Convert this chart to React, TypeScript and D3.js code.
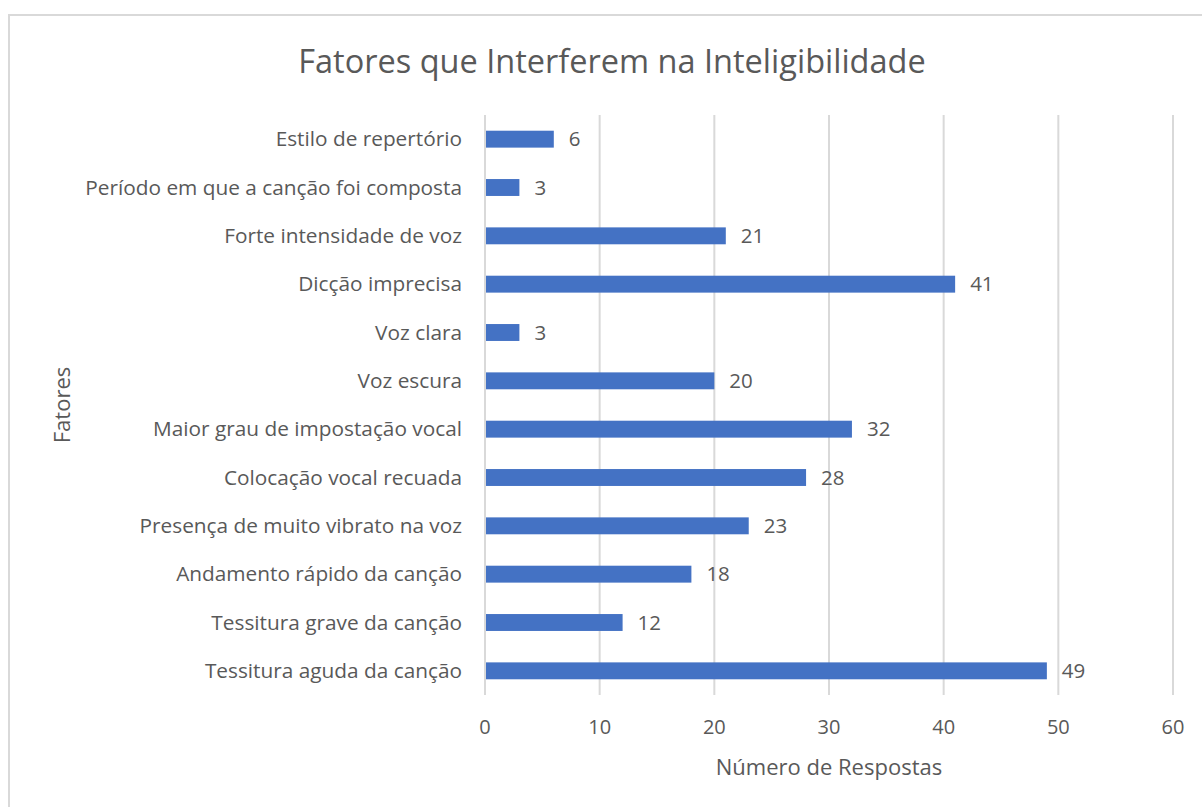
import React, { useRef, useEffect } from "react";
import * as d3 from "d3";

// dados do gráfico (de cima para baixo)
const fatores = [
  "Estilo de repertório",
  "Período em que a canção foi composta",
  "Forte intensidade de voz",
  "Dicção imprecisa",
  "Voz clara",
  "Voz escura",
  "Maior grau de impostação vocal",
  "Colocação vocal recuada",
  "Presença de muito vibrato na voz",
  "Andamento rápido da canção",
  "Tessitura grave da canção",
  "Tessitura aguda da canção",
];
const respostas = [6, 3, 21, 41, 3, 20, 32, 28, 23, 18, 12, 49];
const xTicks = [0, 10, 20, 30, 40, 50, 60];

const W = 1202;
const H = 807;
const FONT = "'Open Sans', 'Noto Sans', sans-serif";
const TXT = "#595959";

export default function App() {
  const svgRef = useRef<SVGSVGElement>(null);

  useEffect(() => {
    const svg = d3.select(svgRef.current);
    svg.selectAll("*").remove();

    const left = 485, right = 1173, top = 115, bottom = 695;

    const x = d3.scaleLinear().domain([0, 60]).range([left, right]);
    const y = d3
      .scaleBand()
      .domain(fatores)
      .range([top, bottom])
      .paddingInner(0.65)
      .paddingOuter(0.325);

    // moldura
    svg
      .append("rect")
      .attr("x", 9)
      .attr("y", 15)
      .attr("width", W + 20)
      .attr("height", H + 20)
      .attr("fill", "#fff")
      .attr("stroke", "#d9d9d9")
      .attr("stroke-width", 2);

    svg
      .append("text")
      .attr("x", 612)
      .attr("y", 73)
      .attr("text-anchor", "middle")
      .attr("font-size", 32.5)
      .attr("fill", TXT)
      .text("Fatores que Interferem na Inteligibilidade");

    // grade
    svg
      .selectAll(".grid")
      .data(xTicks)
      .join("line")
      .attr("class", "grid")
      .attr("x1", (d) => x(d))
      .attr("x2", (d) => x(d))
      .attr("y1", top)
      .attr("y2", bottom)
      .attr("stroke", "#d9d9d9")
      .attr("stroke-width", 2);

    svg
      .selectAll(".tick")
      .data(xTicks)
      .join("text")
      .attr("class", "tick")
      .attr("x", (d) => x(d))
      .attr("y", 734)
      .attr("text-anchor", "middle")
      .attr("font-size", 20)
      .attr("fill", TXT)
      .text((d) => d);

    svg
      .selectAll(".bar")
      .data(respostas)
      .join("rect")
      .attr("class", "bar")
      .attr("x", x(0) + 1)
      .attr("y", (d, i) => y(fatores[i]))
      .attr("width", (d) => x(d) - x(0) - 1)
      .attr("height", y.bandwidth())
      .attr("fill", "#4472C4");

    svg
      .selectAll(".cat")
      .data(fatores)
      .join("text")
      .attr("class", "cat")
      .attr("x", 462)
      .attr("y", (d) => y(d) + y.bandwidth() / 2)
      .attr("dy", "0.35em")
      .attr("text-anchor", "end")
      .attr("font-size", 20.8)
      .attr("fill", TXT)
      .text((d) => d);

    svg
      .selectAll(".val")
      .data(respostas)
      .join("text")
      .attr("class", "val")
      .attr("x", (d) => x(d) + 15)
      .attr("y", (d, i) => y(fatores[i]) + y.bandwidth() / 2)
      .attr("dy", "0.35em")
      .attr("font-size", 20.5)
      .attr("fill", TXT)
      .text((d) => d);

    svg
      .append("text")
      .attr("x", x(30))
      .attr("y", 775)
      .attr("text-anchor", "middle")
      .attr("font-size", 22)
      .attr("fill", TXT)
      .text("Número de Respostas");

    svg
      .append("text")
      .attr("transform", `translate(70,${(top + bottom) / 2}) rotate(-90)`)
      .attr("text-anchor", "middle")
      .attr("font-size", 22)
      .attr("fill", TXT)
      .text("Fatores");
  }, []);

  return (
    <svg
      ref={svgRef}
      width={W}
      height={H}
      style={{ position: "absolute", left: 0, top: 0, fontFamily: FONT }}
    />
  );
}
